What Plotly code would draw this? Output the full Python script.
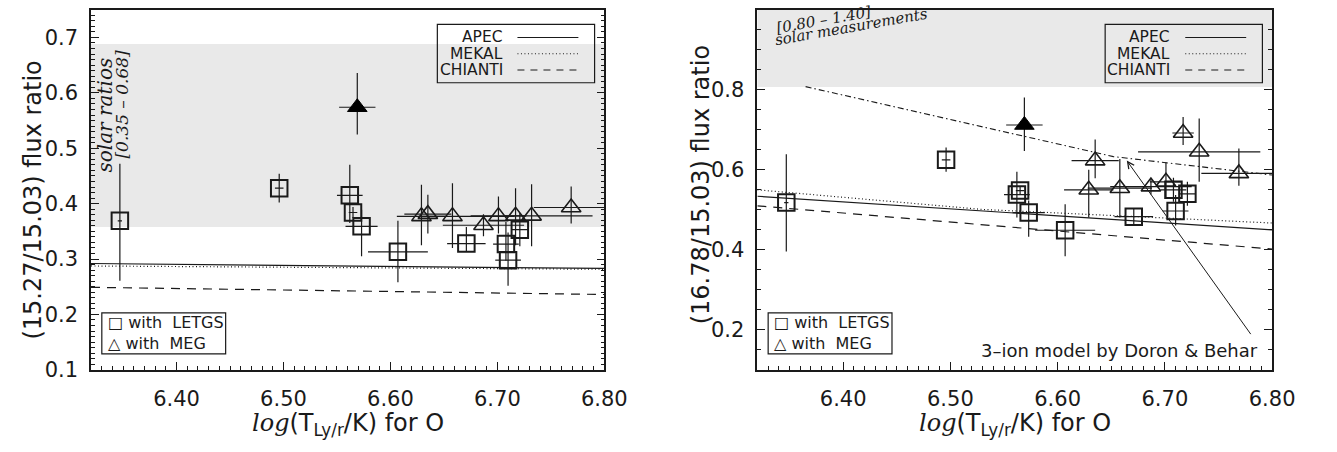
import plotly.graph_objects as go

# ---------------- data ----------------
# LETGS sources (squares)
sq_x      = [6.347, 6.496, 6.562, 6.565, 6.573, 6.607, 6.671, 6.708, 6.710, 6.721]
sq_xerr   = [0.002, 0.004, 0.012, 0.004, 0.015, 0.028, 0.018, 0.012, 0.012, 0.008]
sq_r1     = [0.369, 0.428, 0.415, 0.384, 0.359, 0.313, 0.328, 0.327, 0.298, 0.353]
sq_r1_lo  = [0.108, 0.026, 0.050, 0.010, 0.054, 0.055, 0.015, 0.030, 0.046, 0.030]
sq_r1_hi  = [0.103, 0.026, 0.055, 0.010, 0.030, 0.056, 0.030, 0.040, 0.050, 0.030]
sq_r2     = [0.518, 0.625, 0.538, 0.548, 0.493, 0.449, 0.483, 0.550, 0.497, 0.540]
sq_r2_lo  = [0.122, 0.030, 0.057, 0.010, 0.060, 0.065, 0.020, 0.030, 0.036, 0.030]
sq_r2_hi  = [0.121, 0.031, 0.057, 0.010, 0.030, 0.065, 0.020, 0.030, 0.040, 0.030]

# MEG sources (open triangles)
tri_x     = [6.629, 6.635, 6.658, 6.687, 6.701, 6.717, 6.732, 6.769]
tri_xerr  = [0.023, 0.022, 0.030, 0.038, 0.015, 0.010, 0.057, 0.035]
tri_r1    = [0.377, 0.381, 0.377, 0.361, 0.377, 0.378, 0.378, 0.393]
tri_r1_lo = [0.052, 0.035, 0.057, 0.020, 0.031, 0.053, 0.055, 0.029]
tri_r1_hi = [0.057, 0.035, 0.060, 0.020, 0.036, 0.050, 0.057, 0.038]
tri_r2    = [0.550, 0.623, 0.554, 0.558, 0.570, 0.692, 0.645, 0.591]
tri_r2_lo = [0.069, 0.044, 0.073, 0.020, 0.040, 0.030, 0.075, 0.031]
tri_r2_hi = [0.050, 0.053, 0.073, 0.020, 0.049, 0.040, 0.083, 0.062]

# filled triangle
fill_x, fill_xerr = [6.569], [0.017]
fill_r1, fill_r1_lo, fill_r1_hi = [0.574], [0.049], [0.062]
fill_r2, fill_r2_lo, fill_r2_hi = [0.712], [0.065], [0.069]

# model curves
mod1_x      = [6.32, 6.80]
apec_r1     = [0.292, 0.283]
mekal_r1    = [0.2875, 0.2815]
chianti_r1  = [0.249, 0.236]
mod2_x      = [6.32, 6.53, 6.80]
apec_r2     = [0.534, 0.497, 0.450]
mekal_r2    = [0.550, 0.501, 0.467]
chianti_r2  = [0.510, 0.4625, 0.402]
doron_x     = [6.365, 6.53, 6.576, 6.652, 6.80]
doron_r2    = [0.808, 0.708, 0.680, 0.633, 0.587]

# solar bands
band1 = [0.358, 0.688]
band2 = [0.807, 1.40]

x_range = [6.32, 6.8001]
y1_range = [0.0999, 0.75]
y2_range = [0.0999, 1.0001]
x_ticks = [6.40, 6.50, 6.60, 6.70, 6.80]

# ---------------- layout geometry (pixels) ----------------
W, H = 1337, 452
TOP, BOT = 10, 380
L0, L1 = 92.6, 615.0
R0, R1 = 770.6, 1294.5

def px(p):
    return p / W

def py(p):
    return 1 - p / H

INK = '#1a1a1a'
SANS = 'DejaVu Sans'
SERIF = 'DejaVu Serif'

fig = go.Figure()

def eb(hi, lo):
    return dict(type='data', symmetric=False, array=hi, arrayminus=lo,
                width=0, thickness=1.2, color=INK)

def ebx(e):
    return dict(type='data', array=e, width=0, thickness=1.2, color=INK)

def add_models(xa, ya, xs, ap, me, ch):
    fig.add_trace(go.Scatter(x=xs, y=ap, mode='lines', xaxis=xa, yaxis=ya,
                             line=dict(color=INK, width=1.2), showlegend=False))
    fig.add_trace(go.Scatter(x=xs, y=me, mode='lines', xaxis=xa, yaxis=ya,
                             line=dict(color=INK, width=1.2, dash='1px,2.5px'), showlegend=False))
    fig.add_trace(go.Scatter(x=xs, y=ch, mode='lines', xaxis=xa, yaxis=ya,
                             line=dict(color=INK, width=1.2, dash='9px,7px'), showlegend=False))

def add_points(xa, ya, sy, slo, shi, ty, tlo, thi, fy, flo, fhi):
    fig.add_trace(go.Scatter(x=sq_x, y=sy, mode='markers', xaxis=xa, yaxis=ya,
                             error_y=eb(shi, slo), error_x=ebx(sq_xerr),
                             marker=dict(symbol='square-open', size=16.5, color=INK,
                                         line=dict(width=2, color=INK)),
                             showlegend=False))
    fig.add_trace(go.Scatter(x=tri_x, y=ty, mode='markers', xaxis=xa, yaxis=ya,
                             error_y=eb(thi, tlo), error_x=ebx(tri_xerr),
                             marker=dict(symbol='triangle-up-open', size=17, color=INK,
                                         line=dict(width=1.6, color=INK)),
                             showlegend=False))
    fig.add_trace(go.Scatter(x=fill_x, y=fy, mode='markers', xaxis=xa, yaxis=ya,
                             error_y=eb(fhi, flo), error_x=ebx(fill_xerr),
                             marker=dict(symbol='triangle-up', size=17, color='black',
                                         line=dict(width=1, color='black')),
                             showlegend=False))

add_models('x', 'y', mod1_x, apec_r1, mekal_r1, chianti_r1)
add_points('x', 'y', sq_r1, sq_r1_lo, sq_r1_hi, tri_r1, tri_r1_lo, tri_r1_hi,
           fill_r1, fill_r1_lo, fill_r1_hi)

add_models('x2', 'y2', mod2_x, apec_r2, mekal_r2, chianti_r2)
fig.add_trace(go.Scatter(x=doron_x, y=doron_r2, mode='lines', xaxis='x2', yaxis='y2',
                         line=dict(color=INK, width=1.1, dash='6px,3px,1.5px,3px'),
                         showlegend=False))
add_points('x2', 'y2', sq_r2, sq_r2_lo, sq_r2_hi, tri_r2, tri_r2_lo, tri_r2_hi,
           fill_r2, fill_r2_lo, fill_r2_hi)

tickfont = dict(family=SANS, size=21, color=INK)

def xaxis_cfg(d0, d1, anchor):
    return dict(domain=[px(d0), px(d1)], range=x_range, anchor=anchor,
                tickmode='array', tickvals=x_ticks,
                ticktext=[f'{v:.2f}' for v in x_ticks],
                ticks='inside', ticklen=8, tickwidth=1.2, tickcolor=INK,
                minor=dict(dtick=0.01, tick0=6.3, ticks='inside', ticklen=4,
                           tickwidth=1, tickcolor=INK, showgrid=False),
                showline=True, linecolor=INK, linewidth=1.5, mirror=True,
                showgrid=False, zeroline=False, tickfont=tickfont,
                ticklabelstandoff=9)

def yaxis_cfg(anchor, rng, dt, mdt):
    return dict(domain=[py(BOT), py(TOP)], range=rng, anchor=anchor,
                tickmode='linear', tick0=0.0, dtick=dt, tickformat='.1f',
                ticks='inside', ticklen=8, tickwidth=1.2, tickcolor=INK,
                minor=dict(dtick=mdt, tick0=0.0, ticks='inside', ticklen=4,
                           tickwidth=1, tickcolor=INK, showgrid=False),
                showline=True, linecolor=INK, linewidth=1.5, mirror='ticks',
                showgrid=False, zeroline=False, tickfont=tickfont,
                ticklabelstandoff=7)

shapes = []
# solar bands
shapes.append(dict(type='rect', xref='x', yref='y', x0=x_range[0], x1=x_range[1],
                   y0=band1[0], y1=min(band1[1], y1_range[1]),
                   fillcolor='#e9e9e9', line=dict(width=0), layer='below'))
shapes.append(dict(type='rect', xref='x2', yref='y2', x0=x_range[0], x1=x_range[1],
                   y0=band2[0], y1=min(band2[1], y2_range[1]),
                   fillcolor='#e9e9e9', line=dict(width=0), layer='below'))

annotations = []

def ann(text, x, y, size, family=SANS, angle=0, xanchor='center', yanchor='middle', **kw):
    annotations.append(dict(text=text, x=px(x), y=py(y), xref='paper', yref='paper',
                            showarrow=False, textangle=angle, xanchor=xanchor,
                            yanchor=yanchor, font=dict(family=family, size=size, color=INK),
                            **kw))

# model legend boxes
leg_names = ['APEC', 'MEKAL', 'CHIANTI']
leg_dash = ['solid', '1px,2.5px', '7px,6px']
leg_rows = [38.5, 55.2, 71.9]
for frame_r in (L1, R1):
    shapes.append(dict(type='rect', xref='paper', yref='paper',
                       x0=px(frame_r - 170), x1=px(frame_r - 10),
                       y0=py(85), y1=py(25), line=dict(color=INK, width=1.2),
                       layer='above'))
    for name, dsh, r in zip(leg_names, leg_dash, leg_rows):
        ann(name, frame_r - 101.5, r, 15.5, xanchor='right')
        shapes.append(dict(type='line', xref='paper', yref='paper',
                           x0=px(frame_r - 88.5), x1=px(frame_r - 26.5),
                           y0=py(r), y1=py(r), line=dict(color=INK, width=1.1, dash=dsh),
                           layer='above'))

# instrument legend boxes
for frame_l in (L0, R0):
    shapes.append(dict(type='rect', xref='paper', yref='paper',
                       x0=px(frame_l + 11), x1=px(frame_l + 137),
                       y0=py(363.5), y1=py(321.5), line=dict(color=INK, width=1.2),
                       layer='above'))
    ann('\u25a1 with  LETGS<br>\u25b3 with  MEG', frame_l + 15, 342.5, 16,
        xanchor='left', align='left')

# axis titles
xtitle = ('<span style="font-family:DejaVu Serif;font-style:italic">log</span>'
          '(T<sub>Ly/r</sub>/K) for O')
ann(xtitle, (L0 + L1) / 2, 436, 24)
ann(xtitle, (R0 + R1) / 2, 436, 24)
ann('(15.27/15.03) flux ratio', L0 - 59, 206, 24, angle=-90)
ann('(16.78/15.03) flux ratio', R0 - 57, 190, 24, angle=-90)

# solar band labels
ann('<i>solar ratios</i>', 107, 118.5, 20, family=SERIF, angle=-90)
ann('<i>[0.35 \u2013 0.68]</i>', 124, 106.5, 17, family=SERIF, angle=-90)
ann('<i>[0.80 \u2013 1.40]</i>', 838, 21, 15, family=SERIF, angle=-10)
ann('<i>solar measurements</i>', 866, 28, 15, family=SERIF, angle=-10)

# 3-ion model label and arrow
ann('3\u2013ion model by Doron &amp; Behar', 1282, 360, 18, xanchor='right')
annotations.append(dict(text='', x=6.6645, y=0.623, xref='x2', yref='y2',
                        showarrow=True, ax=125, ay=175, axref='pixel', ayref='pixel',
                        arrowhead=5, arrowsize=1.3, arrowwidth=1, arrowcolor=INK,
                        standoff=0))

fig.update_layout(
    width=W, height=H,
    margin=dict(l=0, r=0, t=0, b=0),
    paper_bgcolor='white', plot_bgcolor='white',
    xaxis=xaxis_cfg(L0, L1, 'y'),
    yaxis=yaxis_cfg('x', y1_range, 0.1, 0.01),
    xaxis2=xaxis_cfg(R0, R1, 'y2'),
    yaxis2=yaxis_cfg('x2', y2_range, 0.2, 0.05),
    shapes=shapes,
    annotations=annotations,
    showlegend=False,
    font=dict(family=SANS, color=INK),
)

fig.write_html('out.html')
